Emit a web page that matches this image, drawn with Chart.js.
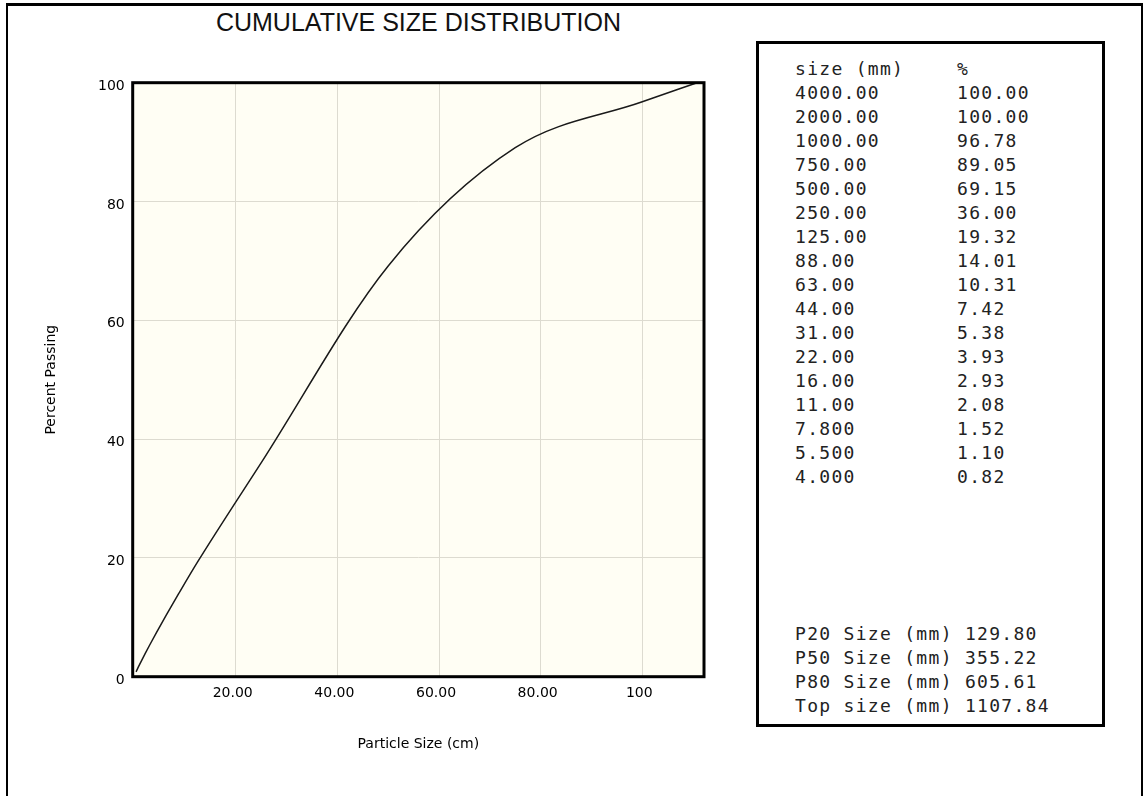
<!DOCTYPE html>
<html>
<head>
<meta charset="utf-8">
<title>Cumulative size distribution</title>
<script src="https://cdn.jsdelivr.net/npm/chart.js@4.4.1/dist/chart.umd.min.js"></script>
<style>
  html, body { margin: 0; padding: 0; background: #fff; }
  body { width: 1144px; height: 796px; position: relative; overflow: hidden; }
  #frame {
    position: absolute; left: 6px; top: 3px; width: 1137px; height: 900px;
    box-sizing: border-box; border: 2px solid #000; border-top-width: 3px;
  }
  #title {
    position: absolute; left: 0; top: 10px; width: 837px; text-align: center;
    font: 25px/25px "Liberation Sans", Arial, sans-serif; color: #111;
  }
  #chart { position: absolute; left: 0; top: 0; }
  #sizes {
    position: absolute; left: 756px; top: 41px; width: 349px; height: 686px;
    box-sizing: border-box; border: 3px solid #000; background: #fff;
  }
  .col {
    position: absolute; white-space: pre; color: #222;
    font: 18px/24px "DejaVu Sans Mono", monospace; letter-spacing: 1.3px;
  }
</style>
</head>
<body>
<div id="frame"></div>
<div id="title">CUMULATIVE SIZE DISTRIBUTION</div>
<canvas id="chart" width="720" height="796"></canvas>
<div id="sizes">
  <div class="col" id="colSize" style="left:36px; top:13px;"></div>
  <div class="col" id="colPct" style="left:198px; top:13px;"></div>
  <div class="col" id="colP" style="left:36px; top:578px;"></div>
</div>

<script>
// sieve analysis: size (mm) and cumulative % passing
const sizeMm = [4000, 2000, 1000, 750, 500, 250, 125, 88, 63, 44, 31, 22, 16, 11, 7.8, 5.5, 4];
const sizeText = ['4000.00', '2000.00', '1000.00', '750.00', '500.00', '250.00', '125.00', '88.00',
  '63.00', '44.00', '31.00', '22.00', '16.00', '11.00', '7.800', '5.500', '4.000'];
const passing = [100, 100, 96.78, 89.05, 69.15, 36.00, 19.32, 14.01, 10.31, 7.42, 5.38, 3.93, 2.93, 2.08, 1.52, 1.10, 0.82];

// characteristic sizes (mm)
const pNames = ['P20 Size (mm)', 'P50 Size (mm)', 'P80 Size (mm)', 'Top size (mm)'];
const pSizes = [129.80, 355.22, 605.61, 1107.84];

// axes
const xMin = -0.27;
const xMax = 112.14;
const xTicks = [20, 40, 60, 80, 100];
const xTickLabels = ['20.00', '40.00', '60.00', '80.00', '100'];
const yTicks = [0, 20, 40, 60, 80, 100];
const yTickLabels = ['0', '20', '40', '60', '80', '100'];

// text block on the right
document.getElementById('colSize').textContent = ['size (mm)'].concat(sizeText).join('\n');
document.getElementById('colPct').textContent = ['%'].concat(passing.map(p => p.toFixed(2))).join('\n');
document.getElementById('colP').textContent = pNames.map((n, i) => n + ' ' + pSizes[i].toFixed(2)).join('\n');

// curve points in cm, smallest first; sizes past the axis are left out,
// the top size closes the curve at 100 %
const points = sizeMm
  .map((s, i) => ({ x: s / 10, y: passing[i] }))
  .filter(p => p.x <= xMax);
points.push({ x: pSizes[3] / 10, y: 100 });
points.sort((a, b) => a.x - b.x);

const tickFont = { family: 'DejaVu Sans', size: 14 };

// cream plot background + heavy frame around the plot area
const plotFrame = {
  id: 'plotFrame',
  beforeDraw(chart) {
    const { ctx, chartArea: a } = chart;
    ctx.save();
    ctx.fillStyle = '#fffef4';
    ctx.fillRect(a.left, a.top, a.right - a.left, a.bottom - a.top);
    ctx.restore();
  },
  afterDraw(chart) {
    const { ctx, chartArea: a } = chart;
    ctx.save();
    ctx.strokeStyle = '#000';
    ctx.lineWidth = 3;
    ctx.strokeRect(a.left, a.top, a.right - a.left, a.bottom - a.top);
    ctx.restore();
  }
};

new Chart(document.getElementById('chart'), {
  type: 'line',
  data: {
    datasets: [{
      data: points,
      borderColor: '#1a1a1a',
      borderWidth: 1.5,
      pointRadius: 0,
      fill: false,
      cubicInterpolationMode: 'monotone'
    }]
  },
  options: {
    responsive: false,
    animation: false,
    layout: { padding: { top: 82.7, right: 16, bottom: 0, left: 0 } },
    plugins: {
      legend: { display: false },
      tooltip: { enabled: false }
    },
    scales: {
      x: {
        type: 'linear',
        min: xMin,
        max: xMax,
        afterBuildTicks: s => { s.ticks = xTicks.map(v => ({ value: v })); },
        afterFit: s => { s.height = 119.3; },
        ticks: {
          autoSkip: false,
          maxRotation: 0,
          padding: 8,
          labelOffset: -3,
          color: '#000',
          font: tickFont,
          callback: v => xTickLabels[xTicks.indexOf(v)]
        },
        grid: { color: '#dddbd0', drawTicks: false },
        border: { display: false },
        title: {
          display: true,
          text: 'Particle Size (cm)',
          color: '#000',
          font: tickFont,
          padding: { top: 0, bottom: 43 }
        }
      },
      y: {
        type: 'linear',
        min: 0,
        max: 100,
        afterBuildTicks: s => { s.ticks = yTicks.map(v => ({ value: v })); },
        afterFit: s => { s.width = 132.7; },
        ticks: {
          padding: 8,
          labelOffset: 3.5,
          color: '#000',
          font: tickFont,
          callback: v => yTickLabels[yTicks.indexOf(v)]
        },
        grid: { color: '#dddbd0', drawTicks: false },
        border: { display: false },
        title: {
          display: true,
          text: 'Percent Passing',
          color: '#000',
          font: tickFont,
          padding: { top: 43, bottom: 0 }
        }
      }
    }
  },
  plugins: [plotFrame]
});
</script>
</body>
</html>
